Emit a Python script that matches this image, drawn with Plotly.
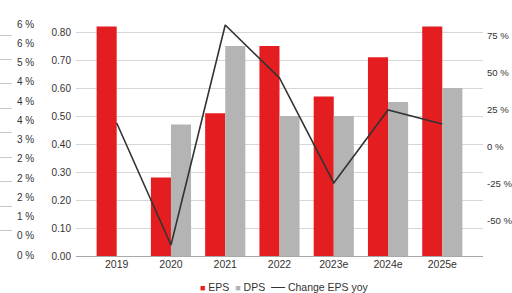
import plotly.graph_objects as go

# ---- data ----
years = ["2019", "2020", "2021", "2022", "2023e", "2024e", "2025e"]
eps = [0.82, 0.28, 0.51, 0.75, 0.57, 0.71, 0.82]
dps = [None, 0.47, 0.75, 0.50, 0.50, 0.55, 0.60]
eps_change = [16.2, -66.2, 82.4, 46.6, -24.3, 25.0, 15.5]
change_ticks = [-50, -25, 0, 25, 50, 75]
change_labels = ["-50 %", "-25 %", "0 %", "25 %", "50 %", "75 %"]

# cropped neighbouring chart axis (left edge of the picture)
yield_ticks = [0, 0.5, 1, 1.5, 2, 2.5, 3, 3.5, 4, 4.5, 5, 5.5, 6]
yield_labels = ["0 %", "0 %", "1 %", "2 %", "2 %", "2 %", "3 %", "4 %", "4 %", "4 %", "5 %", "6 %", "6 %"]
neighbour_grid = [0, 1, 2, 3, 4, 5, 6, 7, 8, 9]

RED = "#e41e20"
GRAY = "#b4b4b4"
LINE = "#333333"
FONT = "Liberation Sans, Arial, sans-serif"

W, H = 512, 293
def px_x(p):
    return p / W
def px_y(p):
    return (H - p) / H

fig = go.Figure()

fig.add_trace(go.Bar(x=years, y=eps, name="EPS", marker_color=RED,
                     showlegend=False, xaxis="x", yaxis="y"))
fig.add_trace(go.Bar(x=years, y=dps, name="DPS", marker_color=GRAY,
                     showlegend=False, xaxis="x", yaxis="y"))
fig.add_trace(go.Scatter(x=years, y=eps_change, name="Change EPS yoy", mode="lines",
                         line=dict(color=LINE, width=1.6), showlegend=False,
                         xaxis="x", yaxis="y2"))

# neighbouring cropped chart axes
fig.add_trace(go.Scatter(x=[0], y=[None], xaxis="x2", yaxis="y3", showlegend=False,
                         hoverinfo="skip"))
fig.add_trace(go.Scatter(x=[0], y=[None], xaxis="x2", yaxis="y4", showlegend=False,
                         hoverinfo="skip"))

legend_text = (
    f'<span style="color:{RED};font-size:9px">■</span> EPS  '
    f'<span style="color:{GRAY};font-size:9px">■</span> DPS  '
    f'<span style="color:{LINE};font-size:14px">—</span> Change EPS yoy'
)

fig.update_layout(
    template="none",
    width=W, height=H,
    margin=dict(l=0, r=0, t=0, b=0, autoexpand=False),
    paper_bgcolor="white", plot_bgcolor="white",
    font=dict(family=FONT, size=10, color="#333333"),
    showlegend=False,
    barmode="group", bargap=0.26, bargroupgap=0,
    xaxis=dict(type="category", categoryorder="array", categoryarray=years,
               domain=[px_x(76), px_x(483)], range=[-0.75, 6.75],
               showgrid=False, ticks="", showline=False, automargin=False,
               tickfont=dict(size=10.5), anchor="y"),
    yaxis=dict(domain=[px_y(256), px_y(12.4)], range=[0, 0.87],
               dtick=0.1, tickformat=".2f", showgrid=True,
               gridcolor="#d6d6d6", gridwidth=1, automargin=False,
               zeroline=True, zerolinecolor="#a8a8a8", zerolinewidth=1,
               ticks="", ticklabelstandoff=4, anchor="x"),
    yaxis2=dict(overlaying="y", side="right", range=[-73.6, 90.9],
                tickvals=change_ticks, ticktext=change_labels,
                tickfont=dict(size=9.6),
                showgrid=False, zeroline=False, ticks="", anchor="x",
                automargin=False, ticklabelstandoff=3),
    xaxis2=dict(domain=[0, px_x(12)], range=[0, 1], visible=False, anchor="y3",
                automargin=False),
    yaxis3=dict(domain=[px_y(255), px_y(24)], range=[0, 9.45],
                tickvals=neighbour_grid, showticklabels=False, showgrid=True,
                gridcolor="#c8c8c8", zeroline=False, ticks="", anchor="x2",
                automargin=False),
    yaxis4=dict(overlaying="y3", side="right", anchor="x2", range=[0, 6],
                tickvals=yield_ticks, ticktext=yield_labels, automargin=False,
                showgrid=False, zeroline=False, ticks="", ticklabelstandoff=4),
    annotations=[dict(text=legend_text, xref="paper", yref="paper",
                      x=px_x(198), y=px_y(285.5), xanchor="left", yanchor="middle",
                      showarrow=False, font=dict(size=10.5, color="#333333"))],
)

fig.write_html("out.html",
               config={"displayModeBar": False, "staticPlot": True},
               post_script="document.body.style.margin='0';document.body.style.overflow='hidden';")
